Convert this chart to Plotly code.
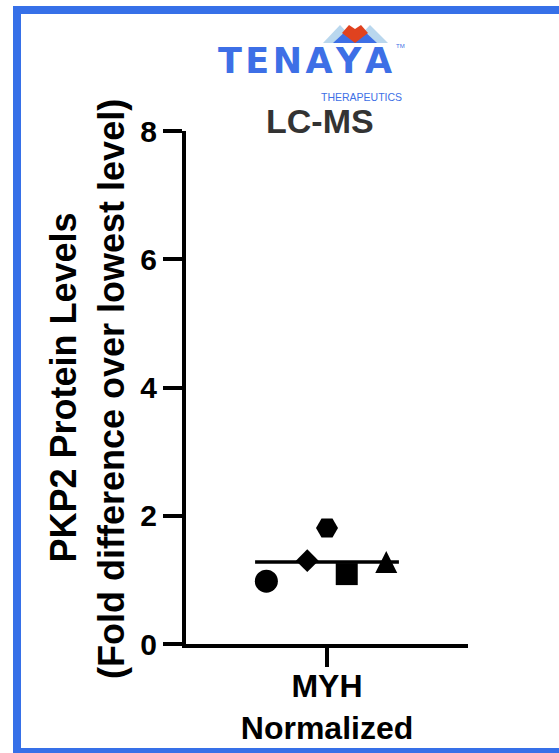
import numpy as np
import plotly.graph_objects as go

# ---- data ----
category = "MYH<br>Normalized"
values = [0.98, 1.30, 1.81, 1.09, 1.22]          # fold difference per replicate
jitter = [-0.43, -0.14, 0.0, 0.14, 0.42]          # horizontal scatter of replicates
symbols = ["circle", "diamond", "hexagon2", "square", "arrow-down"]
y_ticks = [0, 2, 4, 6, 8]
y_title_1 = "PKP2 Protein Levels"
y_title_2 = "(Fold difference over lowest level)"
chart_title = "LC-MS"

# ---- styles ----
FONT = "Liberation Sans, Arial, sans-serif"
LOGO_FONT = "DejaVu Sans, sans-serif"
BLUE = "#3670E8"
LOGO_BLUE = "#3D6FE6"
LIGHT = "#B9D7EE"
RED = "#E0421F"
W, H = 559, 753
L, R, T, B = 186, 91, 131, 109
PW, PH = W - L - R, H - T - B

def px(x):
    return (x - L) / PW

def py(y):
    return (H - B - y) / PH

sizes = [23, 17.5, 22, 22, 22]
angles = [0, 0, 0, 0, 180]
standoffs = [0, 0, 0, 0, 14.7]

fig = go.Figure()
for v, j, s, sz, a, so in zip(values, jitter, symbols, sizes, angles, standoffs):
    fig.add_trace(go.Scatter(
        x=[j], y=[v], mode="markers",
        marker=dict(symbol=s, size=sz, color="black", angle=a, standoff=so,
                    line=dict(width=0)),
        showlegend=False, hoverinfo="skip"))

mean_val = float(np.mean(values))
fig.add_trace(go.Scatter(
    x=[-0.51, 0.51], y=[mean_val, mean_val], mode="lines",
    line=dict(color="black", width=3.5), showlegend=False, hoverinfo="skip"))

axis_common = dict(showline=True, linecolor="black", linewidth=4,
                   ticks="outside", ticklen=19, tickwidth=4, tickcolor="black",
                   showgrid=False, zeroline=False)

fig.update_xaxes(range=[-1, 1], tickvals=[0], ticktext=[category],
                 tickfont=dict(family=FONT, size=32, color="black", weight="bold"),
                 ticklabelstandoff=-8,
                 **axis_common)
fig.update_yaxes(range=[0, 8], tickvals=y_ticks, ticktext=[str(t) for t in y_ticks],
                 tickfont=dict(family=FONT, size=30, color="black", weight="bold"),
                 **axis_common)

shapes = [
    # frame
    dict(type="rect", xref="paper", yref="paper",
         x0=px(17), x1=px(620), y0=py(10), y1=py(752),
         line=dict(color=BLUE, width=8), fillcolor="rgba(0,0,0,0)", layer="above"),
    # logo mountains
    dict(type="path", xref="paper", yref="paper",
         path=f"M{px(323)},{py(43)} L{px(340)},{py(25)} L{px(357)},{py(43)} Z",
         fillcolor=LIGHT, line=dict(width=0)),
    dict(type="path", xref="paper", yref="paper",
         path=f"M{px(353)},{py(43)} L{px(370)},{py(25)} L{px(388)},{py(43)} Z",
         fillcolor=LIGHT, line=dict(width=0)),
    dict(type="path", xref="paper", yref="paper",
         path=f"M{px(333)},{py(43)} L{px(348)},{py(29)} L{px(362)},{py(29)} L{px(377)},{py(43)} Z",
         fillcolor=LOGO_BLUE, line=dict(width=0)),
    dict(type="path", xref="paper", yref="paper",
         path=(f"M{px(342)},{py(33)} L{px(349)},{py(25)} L{px(355)},{py(29)} "
               f"L{px(361)},{py(25)} L{px(368)},{py(33)} L{px(355)},{py(43)} Z"),
         fillcolor=RED, line=dict(width=0)),
]

def ann(text, x, y, size, color, bold=True, angle=0, family=FONT):
    return dict(text=text, xref="paper", yref="paper", x=px(x), y=py(y),
                xanchor="center", yanchor="middle", showarrow=False,
                textangle=angle,
                font=dict(family=family, size=size, color=color,
                          weight="bold" if bold else "normal"))

annotations = [
    ann("T\u200aE\u200aN\u200aA\u200aY\u200aA", 305, 61.5, 35, LOGO_BLUE, family=LOGO_FONT),
    ann("TM", 400, 46, 6, LOGO_BLUE, bold=False),
    ann("THERAPEUTICS", 361, 96.5, 10.5, LOGO_BLUE, bold=False),
    ann(chart_title, 320, 121.5, 34, "#333333"),
    ann(y_title_1, 62.5, 388, 36, "black", angle=-90),
    ann(y_title_2, 111, 389, 36, "black", angle=-90),
]

fig.update_layout(
    width=W, height=H, margin=dict(l=L, r=R, t=T, b=B, autoexpand=False),
    paper_bgcolor="white", plot_bgcolor="white",
    shapes=shapes, annotations=annotations, showlegend=False)

fig.write_html("out.html", config={"displayModeBar": False})
